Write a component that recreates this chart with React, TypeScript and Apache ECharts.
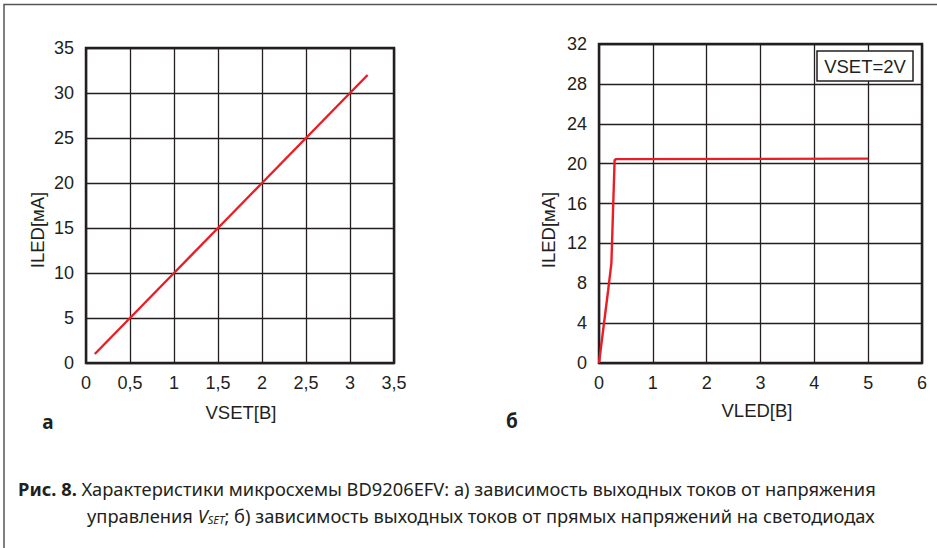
import React, { useEffect, useRef } from "react";
import * as echarts from "echarts";

// Chart a: ILED vs VSET
const vsetX = [0.1, 0.5, 1, 1.5, 2, 2.5, 3, 3.2];
const iledA = [1, 5, 10, 15, 20, 25, 30, 32];
// Chart b: ILED vs VLED at VSET=2V
const vledX = [0, 0.17, 0.23, 0.29, 0.32, 5.0];
const iledB = [0, 7.3, 10, 20.35, 20.45, 20.5];

const xTicksA = [0, 0.5, 1, 1.5, 2, 2.5, 3, 3.5];
const yTicksA = [0, 5, 10, 15, 20, 25, 30, 35];
const xTicksB = [0, 1, 2, 3, 4, 5, 6];
const yTicksB = [0, 4, 8, 12, 16, 20, 24, 28, 32];

const captionLine1 = "{b|Рис. 8.} Характеристики микросхемы BD9206EFV: а) зависимость выходных токов от напряжения";
const captionLine2 = "управления {i|V}{s|SET}; б) зависимость выходных токов от прямых напряжений на светодиодах";

const INK = "#231f20";
const RED = "#ed1c24";
const FONT = "Liberation Sans";
const CAP_FONT = "Noto Sans";
const CAP_SIZE = 18.3;

function axisX(gridIndex: number, ticks: number[]) {
  return {
    type: "value",
    gridIndex,
    min: ticks[0],
    max: ticks[ticks.length - 1],
    interval: ticks[1] - ticks[0],
    axisLine: { show: false },
    axisTick: { show: false },
    splitLine: { show: true, lineStyle: { color: INK, width: 1.3 } },
    axisLabel: {
      margin: 11,
      color: INK,
      fontSize: 18,
      fontFamily: FONT,
      formatter: (v: number) => String(v).replace(".", ","),
    },
  };
}

function axisY(gridIndex: number, ticks: number[]) {
  return {
    type: "value",
    gridIndex,
    min: ticks[0],
    max: ticks[ticks.length - 1],
    interval: ticks[1] - ticks[0],
    axisLine: { show: false },
    axisTick: { show: false },
    splitLine: { show: true, lineStyle: { color: INK, width: 1.3 } },
    axisLabel: { margin: 12, color: INK, fontSize: 18, fontFamily: FONT },
  };
}

export default function App() {
  const ref = useRef<HTMLDivElement>(null);
  useEffect(() => {
    if (!ref.current) return;
    const chart = echarts.init(ref.current, null, { renderer: "svg" });
    const axisNameStyle = { fill: INK, fontSize: 18.5, fontFamily: FONT };
    chart.setOption({
      animation: false,
      backgroundColor: "#ffffff",
      grid: [
        { left: 86, top: 48, width: 308, height: 315, show: true, borderColor: INK, borderWidth: 2.5, backgroundColor: "transparent" },
        { left: 599, top: 44, width: 323, height: 319, show: true, borderColor: INK, borderWidth: 2.5, backgroundColor: "transparent" },
      ],
      xAxis: [axisX(0, xTicksA), axisX(1, xTicksB)],
      yAxis: [axisY(0, yTicksA), axisY(1, yTicksB)],
      series: [
        {
          type: "line",
          xAxisIndex: 0,
          yAxisIndex: 0,
          data: vsetX.map((x, i) => [x, iledA[i]]),
          showSymbol: false,
          lineStyle: { color: RED, width: 2.4 },
          z: 5,
        },
        {
          type: "line",
          xAxisIndex: 1,
          yAxisIndex: 1,
          data: vledX.map((x, i) => [x, iledB[i]]),
          showSymbol: false,
          lineStyle: { color: RED, width: 2.4 },
          z: 5,
        },
      ],
      graphic: [
        {
          type: "polyline",
          shape: { points: [[4, 548], [4, 4.5], [937, 4.5]] },
          style: { stroke: "#555", lineWidth: 1.5, fill: null },
        },
        { type: "text", x: 241, y: 412, style: { ...axisNameStyle, text: "VSET[B]", textAlign: "center", textVerticalAlign: "middle" } },
        { type: "text", x: 757, y: 410, style: { ...axisNameStyle, text: "VLED[B]", textAlign: "center", textVerticalAlign: "middle" } },
        { type: "text", x: 37, y: 230, rotation: Math.PI / 2, style: { ...axisNameStyle, text: "ILED[мА]", textAlign: "center", textVerticalAlign: "middle" } },
        { type: "text", x: 548, y: 230, rotation: Math.PI / 2, style: { ...axisNameStyle, text: "ILED[мА]", textAlign: "center", textVerticalAlign: "middle" } },
        { type: "text", x: 48, y: 422, style: { text: "а", fill: INK, fontSize: 19, fontWeight: "bold", fontFamily: CAP_FONT, textAlign: "center", textVerticalAlign: "middle" } },
        { type: "text", x: 512, y: 421, style: { text: "б", fill: INK, fontSize: 19, fontWeight: "bold", fontFamily: CAP_FONT, textAlign: "center", textVerticalAlign: "middle" } },
        {
          type: "rect",
          shape: { x: 817, y: 51, width: 96, height: 30 },
          style: { fill: "#fff", stroke: INK, lineWidth: 1.5 },
          z: 10,
        },
        { type: "text", x: 865, y: 66, z: 11, style: { ...axisNameStyle, text: "VSET=2V", textAlign: "center", textVerticalAlign: "middle" } },
        {
          type: "text",
          x: 18,
          y: 488,
          style: {
            text: captionLine1,
            fill: INK,
            fontSize: CAP_SIZE,
            fontFamily: CAP_FONT,
            textVerticalAlign: "middle",
            rich: { b: { fontWeight: "bold", fontSize: CAP_SIZE, fontFamily: CAP_FONT, fill: INK } },
          },
        },
        {
          type: "text",
          x: 87,
          y: 515,
          style: {
            text: captionLine2,
            fill: INK,
            fontSize: CAP_SIZE,
            fontFamily: CAP_FONT,
            textVerticalAlign: "middle",
            rich: {
              i: { fontStyle: "italic", fontSize: CAP_SIZE, fontFamily: CAP_FONT, fill: INK },
              s: { fontStyle: "italic", fontSize: 11, fontFamily: CAP_FONT, fill: INK, verticalAlign: "bottom", padding: [9, 0, 0, 0] },
            },
          },
        },
      ],
    });
    return () => chart.dispose();
  }, []);
  return <div ref={ref} style={{ position: "fixed", left: 0, top: 0, width: 937, height: 548 }} />;
}
